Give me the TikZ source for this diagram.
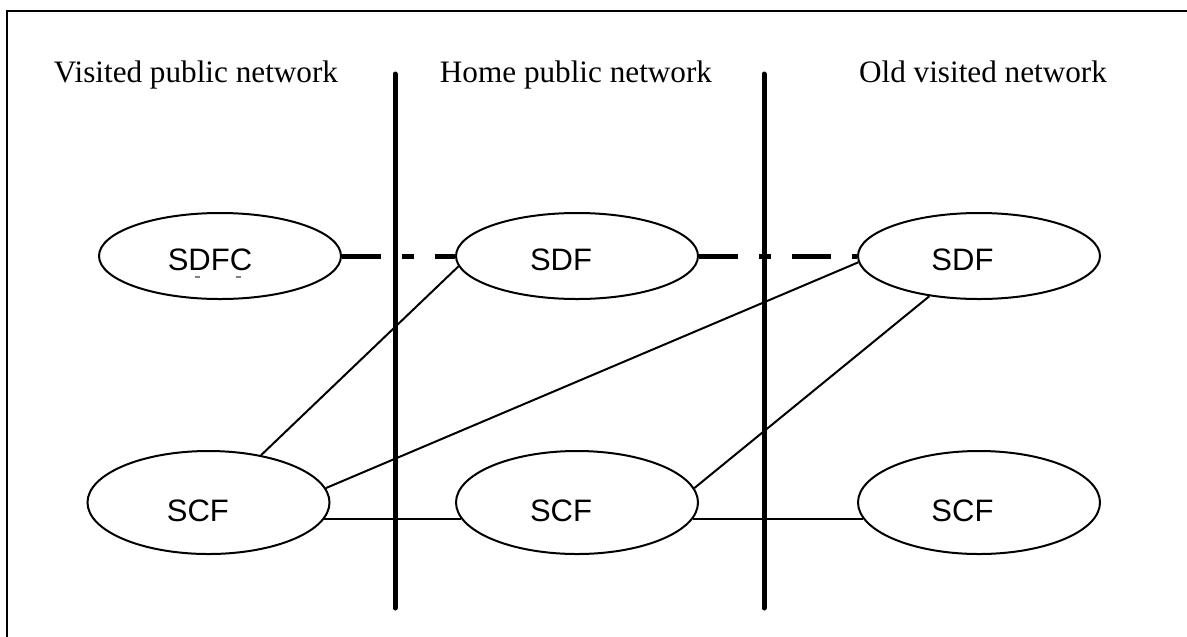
\documentclass[tikz,border=0pt]{standalone}
\usepackage{fontspec}
\setmainfont{Liberation Serif}
\newfontfamily\labelfont{Liberation Sans}
\usetikzlibrary{shapes.geometric}
\begin{document}
\begin{tikzpicture}[x=0.75pt,y=-0.75pt,
  func/.style={ellipse, draw, line width=1.5pt, inner sep=0pt,
    minimum width=181.5pt},
  upper/.style={func, minimum height=64.5pt},
  lower/.style={func, minimum height=77.25pt},
  fname/.style={font=\labelfont\fontsize{23.25pt}{28pt}\selectfont, inner sep=0pt},
  region/.style={font=\fontsize{23.4pt}{28pt}\selectfont, inner sep=0pt, anchor=base},
  border/.style={line width=3.75pt, line cap=round},
  link/.style={line width=1.5pt},
  signal/.style={line width=3.75pt,
    dash pattern=on 29.25pt off 15.75pt on 9pt off 15.75pt}]

\useasboundingbox (0,0) rectangle (1187,636);

% outer frame, running past the right and bottom edges
\begin{scope}
  \clip (0,0) rectangle (1187,636);
  \draw[line width=1.5pt] (7,11) rectangle (1200,650);
\end{scope}

% network names
\node[region] (tv) at (196,82) {Visited public network};
\node[region] (th) at (576,82) {Home public network};
\node[region] (to) at (983,82) {Old visited network};

% network boundaries
\coordinate (b1t) at (395,74);
\coordinate (b1b) at (395,608);
\coordinate (b2t) at (764,74);
\coordinate (b2b) at (764,608);
\draw[border] (b1t) -- (b1b);
\draw[border] (b2t) -- (b2b);

% functional entities
\node[upper, label={[fname, xshift=-7.5pt, yshift=-3pt]center:SDFC}] (sdfc) at (220,256) {};
\node[upper, label={[fname, xshift=-12pt, yshift=-3pt]center:SDF}] (sdfh) at (577,256) {};
\node[upper, label={[fname, xshift=-12.4pt, yshift=-3pt]center:SDF}] (sdfo) at (979,256) {};
\node[lower, label={[fname, xshift=-8pt, yshift=-6.4pt]center:SCF}] (scfl) at (208.5,502.5) {};
\node[lower, label={[fname, xshift=-12pt, yshift=-6.4pt]center:SCF}] (scfm) at (577,502.5) {};
\node[lower, label={[fname, xshift=-12.4pt, yshift=-6.4pt]center:SCF}] (scfr) at (979,502.5) {};

% small marks below the SDFC name
\coordinate (m1) at (195,277);
\coordinate (m2) at (236,277);
\draw[gray, line width=0.8pt] (m1) -- ++(5,0);
\draw[gray, line width=0.8pt] (m2) -- ++(5,0);

% signalling between SDFs
\draw[signal] (sdfc.east) -- (sdfh.west);
\draw[signal] (sdfh.east) -- (sdfo.west);

% SDF - SCF links
\draw[link] (sdfh.185.8) -- (scfl.42.7);
\draw[link] (scfl.7.2) -- (sdfo.183.5);
\draw[link] (sdfo.219.2) -- (scfm.7.4);

% SCF - SCF links
\draw[link] (scfl.-8) -- (scfm.188);
\draw[link] (scfm.-8) -- (scfr.188);
\end{tikzpicture}
\end{document}
